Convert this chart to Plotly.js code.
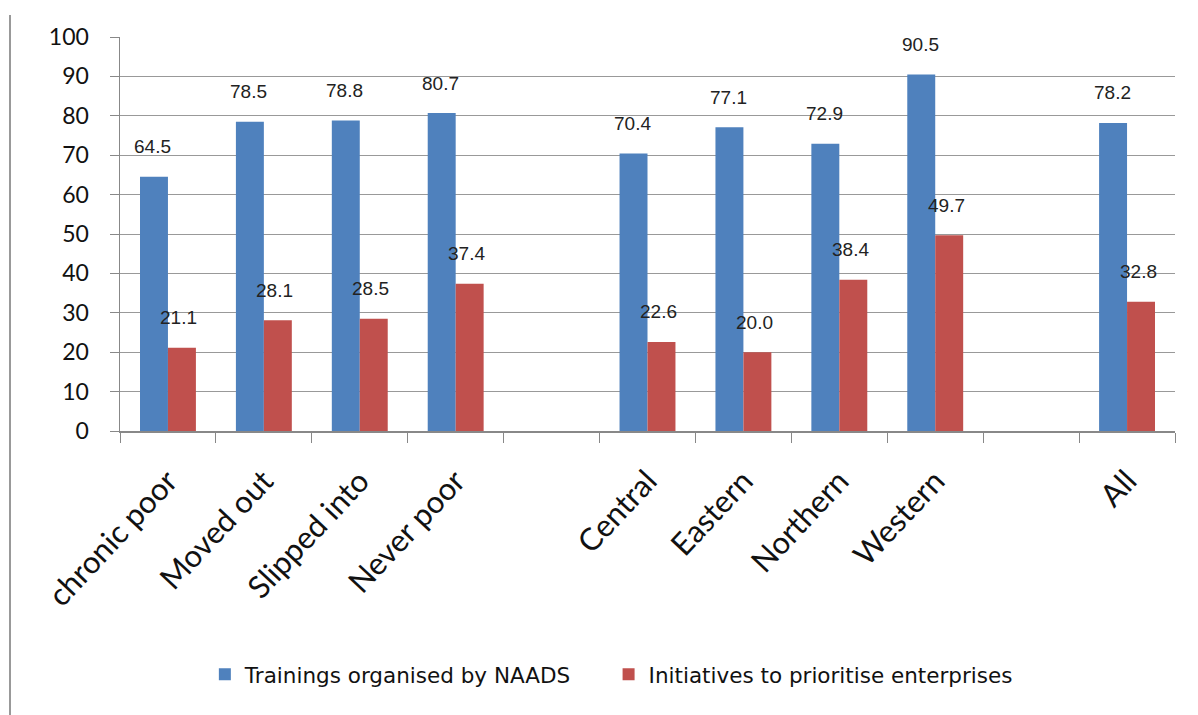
<!DOCTYPE html>
<html>
<head>
<meta charset="utf-8">
<script src="https://cdn.plot.ly/plotly-3.0.1.min.js"></script>
<style>html,body{margin:0;padding:0;background:#fff;}#chart{width:1198px;height:715px;}</style>
</head>
<body>
<div id="chart"></div>
<script>
const categories = ["chronic poor", "Moved out", "Slipped into", "Never poor", " ", "Central", "Eastern", "Northern", "Western", "  ", "All"];
const trainings = [64.5, 78.5, 78.8, 80.7, null, 70.4, 77.1, 72.9, 90.5, null, 78.2];
const initiatives = [21.1, 28.1, 28.5, 37.4, null, 22.6, 20.0, 38.4, 49.7, null, 32.8];
const seriesNames = ["Trainings organised by NAADS", "Initiatives to prioritise enterprises"];
const yTicks = [0, 10, 20, 30, 40, 50, 60, 70, 80, 90, 100];

const blue = "#4F81BD", red = "#C0504D";
const traces = [
  {type: "bar", x: categories, y: trainings, name: seriesNames[0], marker: {color: blue}, legend: "legend"},
  {type: "bar", x: categories, y: initiatives, name: seriesNames[1], marker: {color: red}, legend: "legend2"}
];

const annotations = [];
function addLabels(vals, xshift) {
  vals.forEach((v, i) => {
    if (v === null) return;
    annotations.push({
      x: categories[i], y: v, xref: "x", yref: "y",
      text: v.toFixed(1), showarrow: false,
      xshift: xshift, yshift: 30, yanchor: "middle",
      font: {family: "Liberation Sans, Arial", size: 19, color: "#222"}
    });
  });
}
addLabels(trainings, -15);
addLabels(initiatives, 11);

const legendFont = {family: "DejaVu Sans", size: 21.5, color: "#111"};
const layout = {
  width: 1198, height: 715,
  margin: {l: 120, r: 23, t: 37, b: 284},
  paper_bgcolor: "#fff", plot_bgcolor: "#fff",
  barmode: "group", bargap: 0.417, bargroupgap: 0,
  showlegend: true,
  legend: {
    orientation: "h", xref: "container", yref: "container",
    x: 0.171, xanchor: "left", y: 0.057, yanchor: "middle",
    font: legendFont, itemwidth: 30
  },
  legend2: {
    orientation: "h", xref: "container", yref: "container",
    x: 0.508, xanchor: "left", y: 0.057, yanchor: "middle",
    font: legendFont, itemwidth: 30
  },
  xaxis: {
    type: "category", categoryorder: "array", categoryarray: categories,
    tickangle: -47, ticks: "outside", tickson: "boundaries", ticklen: 10,
    tickcolor: "#888", showline: true, linecolor: "#888", linewidth: 1.5,
    showgrid: false, ticklabelstandoff: 18,
    tickfont: {family: "Lato, Open Sans", size: 31, color: "#111"}
  },
  yaxis: {
    range: [0, 100], tickvals: yTicks, ticks: "outside", ticklen: 9, tickcolor: "#888",
    showline: true, linecolor: "#888", linewidth: 1.5, ticklabelstandoff: 16,
    showgrid: true, gridcolor: "#999", gridwidth: 1, zeroline: false,
    tickfont: {family: "Lato, Open Sans", size: 23, color: "#111"}
  },
  annotations: annotations,
  shapes: [{type: "line", xref: "paper", yref: "paper", x0: 0, x1: 0, y0: 0, y1: 1, line: {color: "#999", width: 2}}]
};
// left border of the chart box at x=10px, from y=15px to the bottom
const plotW = 1198 - 120 - 23, plotH = 715 - 37 - 284;
layout.shapes[0].x0 = layout.shapes[0].x1 = (10 - 120) / plotW;
layout.shapes[0].y0 = -(715 - 37 - plotH) / plotH;
layout.shapes[0].y1 = 1 + (37 - 15) / plotH;

Plotly.newPlot("chart", traces, layout, {displayModeBar: false, staticPlot: true});
</script>
</body>
</html>
